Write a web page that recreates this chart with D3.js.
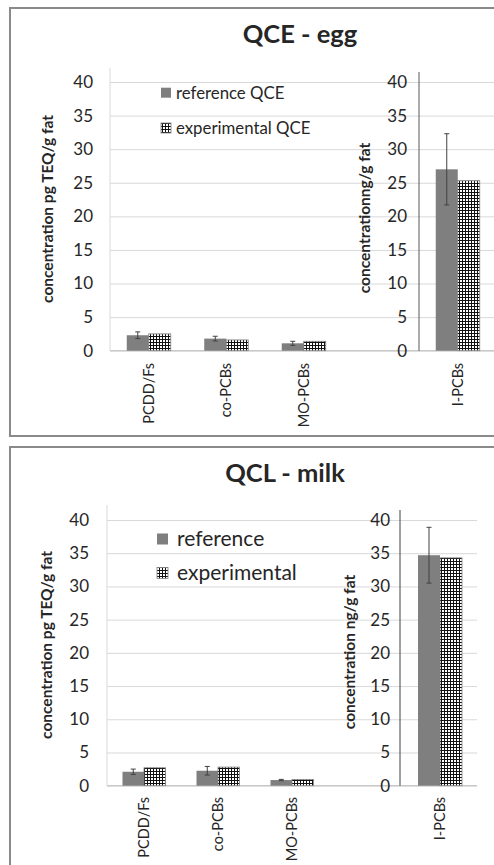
<!DOCTYPE html>
<html>
<head>
<meta charset="utf-8">
<script src="https://cdn.jsdelivr.net/npm/d3@7"></script>
<style>
  body { margin: 0; background: #fff; }
  svg { display: block; }
  text { font-family: Lato, "Open Sans", sans-serif; fill: #262626; }
</style>
</head>
<body>
<svg id="chart" width="494" height="865"></svg>
<script>
// Tick values shared by every value axis
const yTicks = [0, 5, 10, 15, 20, 25, 30, 35, 40];

// Category groups: TEQ-based congeners and indicator PCBs
const teqCategories = ["PCDD/Fs", "co-PCBs", "MO-PCBs"];
const ipcbCategories = ["I-PCBs"];

// QCE - egg (pg TEQ/g fat and ng/g fat)
const eggReference = [2.3, 1.8, 1.1];
const eggReferenceError = [0.5, 0.35, 0.3];
const eggExperimental = [2.5, 1.6, 1.4];
const eggIpcbReference = [27.0];
const eggIpcbReferenceError = [5.3];
const eggIpcbExperimental = [25.3];

// QCL - milk
const milkReference = [2.1, 2.25, 0.85];
const milkReferenceError = [0.4, 0.65, 0.1];
const milkExperimental = [2.7, 2.8, 0.95];
const milkIpcbReference = [34.7];
const milkIpcbReferenceError = [4.2];
const milkIpcbExperimental = [34.3];

const svg = d3.select("#chart");
const REF_COLOR = "#7f7f7f";

// Small-grid fill used for the experimental series
const defs = svg.append("defs");
const pat = defs.append("pattern")
  .attr("id", "smallGrid")
  .attr("patternUnits", "userSpaceOnUse")
  .attr("width", 3).attr("height", 3);
pat.append("rect").attr("width", 3).attr("height", 3).attr("fill", "#111");
pat.append("rect").attr("x", 1).attr("y", 1).attr("width", 2).attr("height", 2).attr("fill", "#fff");

const panels = [
  {
    title: "QCE - egg", titleX: 300, titleY: 43, titleSize: 25.5,
    border: { x: 10, y: 8, w: 500, h: 428 },
    yZero: 350.7, yTop: 82,
    left: {
      cats: teqCategories, ref: eggReference, refErr: eggReferenceError, exp: eggExperimental,
      x0: 110, bw: 77.5, axisTop: 68, gridEnd: 420, tickRight: 93, axisColor: "#d9d9d9",
      label: "concentration pg TEQ/g fat", labelX: 48, labelY: 209, catLabelTop: 363, barW: 22
    },
    right: {
      cats: ipcbCategories, ref: eggIpcbReference, refErr: eggIpcbReferenceError, exp: eggIpcbExperimental,
      x0: 419, bw: 77.5, axisTop: 72, gridEnd: 494, tickRight: 407, axisColor: "#595959",
      label: "concentrationng/g fat", labelX: 365, labelY: 218, catLabelTop: 363, barW: 22
    },
    legend: { x: 161, y1: 92.7, y2: 128, box: 10, textX: 176, size: 16.8,
              names: ["reference QCE", "experimental QCE"] }
  },
  {
    title: "QCL - milk", titleX: 285, titleY: 482, titleSize: 25.5,
    border: { x: 10, y: 447, w: 500, h: 440 },
    yZero: 785.7, yTop: 520,
    left: {
      cats: teqCategories, ref: milkReference, refErr: milkReferenceError, exp: milkExperimental,
      x0: 107, bw: 74, axisTop: 505, gridEnd: 400, tickRight: 89, axisColor: "#d9d9d9",
      label: "concentration pg TEQ/g fat", labelX: 47, labelY: 645, catLabelTop: 797, barW: 21.5
    },
    right: {
      cats: ipcbCategories, ref: milkIpcbReference, refErr: milkIpcbReferenceError, exp: milkIpcbExperimental,
      x0: 400, bw: 80, axisTop: 510, gridEnd: 477, tickRight: 390, axisColor: "#404040",
      label: "concentration ng/g fat", labelX: 350, labelY: 652, catLabelTop: 797, barW: 22
    },
    legend: { x: 157, y1: 539, y2: 573, box: 11, textX: 177, size: 21,
              names: ["reference", "experimental"] }
  }
];

function drawPlot(g, p, yScale) {
  const n = p.cats.length;
  const x = d3.scaleBand().domain(p.cats).range([p.x0, p.x0 + n * p.bw]).padding(0);

  // horizontal gridlines
  const grid = g.append("g").attr("transform", `translate(${p.x0},0)`)
    .call(d3.axisRight(yScale).tickValues(yTicks).tickSize(p.gridEnd - p.x0).tickFormat(""));
  grid.select(".domain").remove();
  grid.selectAll(".tick line").attr("stroke", "#d9d9d9").attr("stroke-width", 1);

  // baseline
  g.append("line")
    .attr("x1", p.x0).attr("x2", p.gridEnd)
    .attr("y1", yScale(0)).attr("y2", yScale(0))
    .attr("stroke", "#bfbfbf").attr("stroke-width", 1);

  // vertical value axis line
  g.append("line")
    .attr("x1", p.x0).attr("x2", p.x0)
    .attr("y1", p.axisTop).attr("y2", yScale(0))
    .attr("stroke", p.axisColor).attr("stroke-width", 1);

  // tick labels
  const yAxis = g.append("g").attr("transform", `translate(${p.tickRight},0)`)
    .call(d3.axisLeft(yScale).tickValues(yTicks).tickSize(0).tickPadding(0));
  yAxis.select(".domain").remove();
  yAxis.selectAll("text")
    .attr("font-family", "Lato, 'Open Sans', sans-serif")
    .attr("font-size", 17).attr("fill", "#333");

  // bars
  const rows = p.cats.map((c, i) => ({ c, ref: p.ref[i], err: p.refErr[i], exp: p.exp[i] }));
  const cx = d => x(d.c) + x.bandwidth() / 2;
  g.selectAll(".refbar").data(rows).join("rect")
    .attr("x", d => cx(d) - p.barW)
    .attr("y", d => yScale(d.ref))
    .attr("width", p.barW)
    .attr("height", d => yScale(0) - yScale(d.ref))
    .attr("fill", REF_COLOR);
  g.selectAll(".expbar").data(rows).join("rect")
    .attr("x", d => cx(d))
    .attr("y", d => yScale(d.exp))
    .attr("width", p.barW)
    .attr("height", d => yScale(0) - yScale(d.exp))
    .attr("fill", "url(#smallGrid)")
    .attr("stroke", "#7f7f7f").attr("stroke-width", 0.8);

  // error bars on the reference series
  const eb = g.selectAll(".err").data(rows).join("g")
    .attr("stroke", "#404040").attr("stroke-width", 1);
  const ex = d => cx(d) - p.barW / 2;
  eb.append("line").attr("x1", ex).attr("x2", ex)
    .attr("y1", d => yScale(d.ref + d.err)).attr("y2", d => yScale(d.ref - d.err));
  eb.append("line").attr("x1", d => ex(d) - 2.5).attr("x2", d => ex(d) + 2.5)
    .attr("y1", d => yScale(d.ref + d.err)).attr("y2", d => yScale(d.ref + d.err));
  eb.append("line").attr("x1", d => ex(d) - 2.5).attr("x2", d => ex(d) + 2.5)
    .attr("y1", d => yScale(d.ref - d.err)).attr("y2", d => yScale(d.ref - d.err));

  // rotated category labels
  g.selectAll(".catlabel").data(p.cats).join("text")
    .attr("transform", c => `translate(${x(c) + x.bandwidth() / 2},${p.catLabelTop}) rotate(-90)`)
    .attr("text-anchor", "end")
    .attr("dy", "0.35em")
    .attr("font-size", 14.5)
    .attr("fill", "#262626")
    .text(c => c);

  // value axis title
  g.append("text")
    .attr("transform", `translate(${p.labelX},${p.labelY}) rotate(-90)`)
    .attr("text-anchor", "middle")
    .attr("dy", "0.35em")
    .attr("font-weight", "bold")
    .attr("font-size", 15.5)
    .attr("fill", "#111")
    .text(p.label);
}

panels.forEach(cfg => {
  const g = svg.append("g");
  g.append("rect")
    .attr("x", cfg.border.x).attr("y", cfg.border.y)
    .attr("width", cfg.border.w).attr("height", cfg.border.h)
    .attr("fill", "#fff").attr("stroke", "#8a8a8a").attr("stroke-width", 2);

  g.append("text")
    .attr("x", cfg.titleX).attr("y", cfg.titleY)
    .attr("text-anchor", "middle")
    .attr("font-weight", "bold").attr("font-size", cfg.titleSize)
    .attr("fill", "#000")
    .text(cfg.title);

  const yScale = d3.scaleLinear().domain([0, 40]).range([cfg.yZero, cfg.yTop]);
  drawPlot(g.append("g"), cfg.left, yScale);
  drawPlot(g.append("g"), cfg.right, yScale);

  // legend
  const L = cfg.legend;
  const fills = [REF_COLOR, "url(#smallGrid)"];
  [L.y1, L.y2].forEach((yy, i) => {
    g.append("rect")
      .attr("x", L.x).attr("y", yy - L.box / 2)
      .attr("width", L.box).attr("height", L.box)
      .attr("fill", fills[i])
      .attr("stroke", i ? "#7f7f7f" : "none").attr("stroke-width", 0.8);
    g.append("text")
      .attr("x", L.textX).attr("y", yy)
      .attr("dy", "0.35em")
      .attr("font-size", L.size)
      .attr("fill", "#262626")
      .text(L.names[i]);
  });
});
</script>
</body>
</html>
